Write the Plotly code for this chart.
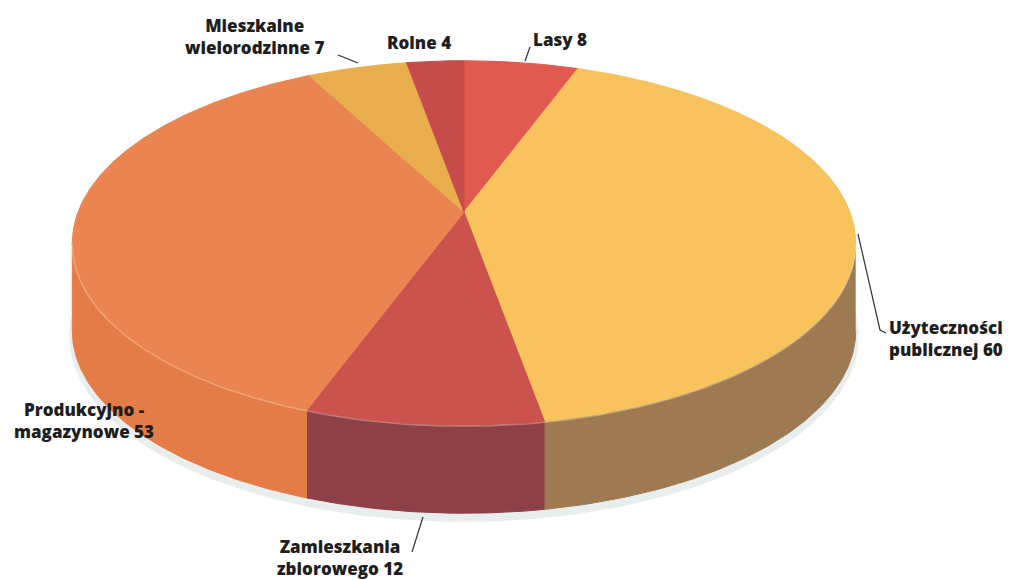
import numpy as np
import plotly.graph_objects as go

# ---- data ----
names = ["Lasy", "Użyteczności publicznej", "Zamieszkania zbiorowego",
         "Produkcyjno - magazynowe", "Mieszkalne wielorodzinne", "Rolne"]
values = [8, 60, 12, 53, 7, 4]
label_lines = [["Lasy"], ["Użyteczności", "publicznej"], ["Zamieszkania", "zbiorowego"],
               ["Produkcyjno -", "magazynowe"], ["Mieszkalne", "wielorodzinne"], ["Rolne"]]
top_colors = ["#E05A50", "#F8C25C", "#CC524E", "#EA8450", "#E8AE4E", "#C64C4C"]
side_colors = ["#A8443C", "#9E7A52", "#8E4048", "#E47C48", "#B9853C", "#963838"]

# ---- layout/style parameters (pixels) ----
W, H = 1011, 580
CX, CY = 464, 212      # projected centre of the pie
KX, KY = 386, 177      # projected radii
P = 0.17               # perspective factor
DEPTH = 88

label_pos = [  # (x, y, xanchor, align)
    (560, 39, "center", "center"),
    (887, 338, "left", "left"),
    (340, 557, "center", "center"),
    (84, 420, "center", "center"),
    (254, 36, "center", "center"),
    (419, 42, "center", "center"),
]
leaders = [
    [(530, 47), (525, 61)],
    [(858, 234), (880, 330), (886, 333)],
    [(423, 517), (412, 552)],
    None,
    [(338, 55), (358, 63)],
    None,
]


def proj(theta_deg, kx=KX, ky=KY):
    t = np.radians(theta_deg)
    d = 1 + P * np.cos(t)
    return CX + kx * np.sin(t) / d, CY - ky * np.cos(t) / d


fig = go.Figure()

# shadow below the pie
th = np.linspace(90, 270, 200)
sx, sy = proj(th, KX + 3, KY + 3)
bx, by = proj(th[::-1], KX - 30, KY - 10)
fig.add_trace(go.Scatter(x=np.r_[sx, bx], y=np.r_[sy + DEPTH + 5, by + DEPTH - 20],
                         fill="toself", mode="lines", line=dict(width=0),
                         fillcolor="rgba(205,216,216,0.45)", hoverinfo="skip", showlegend=False))

total = sum(values)
bounds = np.r_[0, np.cumsum(values)] / total * 360.0
vis_lo = np.degrees(np.arccos(-P))
vis_hi = 360 - vis_lo

# side walls
for i in range(len(values)):
    a, b = bounds[i], bounds[i + 1]
    lo, hi = max(a, vis_lo), min(b, vis_hi)
    if hi <= lo:
        continue
    t = np.linspace(lo, hi, max(3, int(hi - lo) * 2))
    x1, y1 = proj(t)
    fig.add_trace(go.Scatter(x=np.r_[x1, x1[::-1]], y=np.r_[y1, y1[::-1] + DEPTH],
                             fill="toself", mode="lines",
                             line=dict(width=1, color=side_colors[i]),
                             fillcolor=side_colors[i], hoverinfo="skip", showlegend=False))

# top faces
for i in range(len(values)):
    a, b = bounds[i], bounds[i + 1]
    t = np.linspace(a, b, max(3, int(b - a) * 2))
    x1, y1 = proj(t)
    fig.add_trace(go.Scatter(x=np.r_[CX, x1, CX], y=np.r_[CY, y1, CY],
                             fill="toself", mode="lines",
                             line=dict(width=1, color=top_colors[i]),
                             fillcolor=top_colors[i], hoverinfo="skip", showlegend=False,
                             name=names[i]))

# soft highlight on the front rim
t = np.linspace(vis_lo, vis_hi, 200)
hx, hy = proj(t)
fig.add_trace(go.Scatter(x=hx, y=hy + 1, mode="lines",
                         line=dict(width=1.5, color="rgba(255,235,200,0.35)"),
                         hoverinfo="skip", showlegend=False))

# labels
for i in range(len(values)):
    lines = list(label_lines[i])
    lines[-1] = f"{lines[-1]} {values[i]}"
    x, y, xa, al = label_pos[i]
    fig.add_annotation(x=x, y=y, xref="x", yref="y", text="<br>".join(lines),
                       showarrow=False, xanchor=xa, yanchor="middle", align=al,
                       font=dict(family="Open Sans", size=17, color="#1e1e1e", weight=800))
    if leaders[i]:
        pts = leaders[i]
        fig.add_trace(go.Scatter(x=[p[0] for p in pts], y=[p[1] for p in pts], mode="lines",
                                 line=dict(width=1.2, color="#333333"),
                                 hoverinfo="skip", showlegend=False))

fig.update_layout(
    width=W, height=H, margin=dict(l=0, r=0, t=0, b=0),
    paper_bgcolor="white", plot_bgcolor="white",
    xaxis=dict(range=[0, W], visible=False, fixedrange=True),
    yaxis=dict(range=[H, 0], visible=False, fixedrange=True),
    showlegend=False,
)

fig.write_html("out.html", config={"displayModeBar": False},
               post_script="document.body.style.margin='0';document.body.style.overflow='hidden';")
